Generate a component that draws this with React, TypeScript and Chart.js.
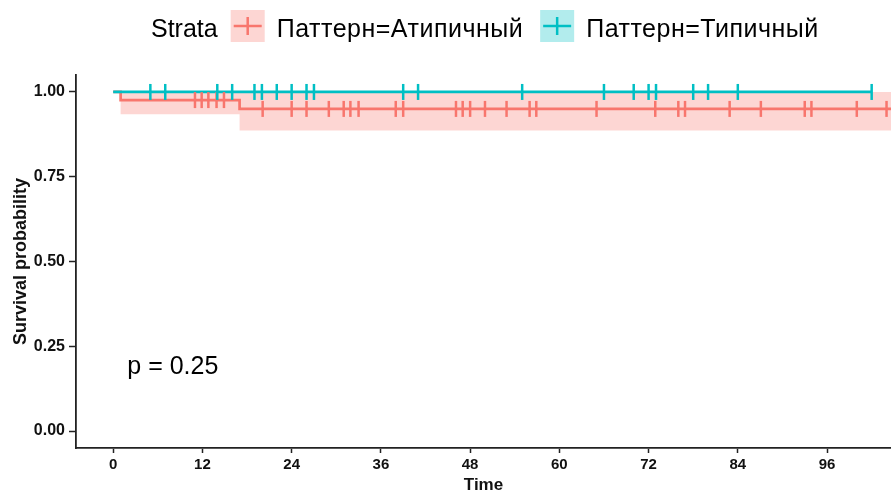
import React, { useEffect, useRef } from 'react';
import { Chart, registerables } from 'chart.js';

Chart.register(...registerables);

// ---- data ----
const X_TICKS = [0, 12, 24, 36, 48, 60, 72, 84, 96];
const Y_TICKS = [0, 0.25, 0.5, 0.75, 1];
const LEGEND_TITLE = 'Strata';
const STRATA = ['Паттерн=Атипичный', 'Паттерн=Типичный'];
const P_VALUE_TEXT = 'p = 0.25';

// Атипичный (red) step curve + confidence band
const RED_TIMES = [0, 1, 17, 106];
const RED_SURV = [1, 0.976, 0.95, 0.95];
const RED_LOWER = [1, 0.934, 0.886, 0.886];
const RED_UPPER = [1, 1, 1, 1];
const RED_CENSOR = [
  11.0, 11.9, 12.8, 13.9, 14.9, 20.1, 24.0, 26.0, 29.0, 31.0, 31.9, 33.0, 38.0, 39.0,
  46.1, 47.0, 48.0, 50.0, 52.9, 56.0, 56.9, 65.0, 72.9, 76.0, 76.9, 82.9, 87.1, 93.0,
  93.9, 100.0, 104.0,
];

// Типичный (teal) step curve
const TEAL_TIMES = [0, 102];
const TEAL_SURV = [1, 1];
const TEAL_CENSOR = [
  5, 7, 14, 16, 19, 20, 22, 24, 26, 27, 39, 41, 55, 66, 70, 72, 73, 78, 80, 84, 102,
];

const RED = '#F8766D';
const TEAL = '#00BFC4';
const RED_FILL = 'rgba(248,118,109,0.3)';
const TEAL_FILL = 'rgba(0,191,196,0.3)';
const FONT = '"Liberation Sans", Arial, Helvetica, sans-serif';

const survAt = (times: number[], surv: number[], t: number) => {
  let v = surv[0];
  for (let i = 0; i < times.length; i++) if (times[i] <= t) v = surv[i];
  return v;
};
const pts = (xs: number[], ys: number[]) => xs.map((x, i) => ({ x, y: ys[i] }));

const overlayPlugin = {
  id: 'overlay',
  afterDraw(chart: any) {
    const ctx = chart.ctx as CanvasRenderingContext2D;
    ctx.save();
    ctx.font = `25px ${FONT}`;
    ctx.fillStyle = '#000';
    ctx.textBaseline = 'alphabetic';
    ctx.textAlign = 'left';
    let x = 151;
    const baseY = 37;
    ctx.fillText(LEGEND_TITLE, x, baseY);
    x += ctx.measureText(LEGEND_TITLE).width + 13;
    const colors = [RED, TEAL];
    const fills = [RED_FILL, TEAL_FILL];
    STRATA.forEach((label, i) => {
      const bw = 34;
      const bh = 32;
      const by = 10;
      ctx.fillStyle = fills[i];
      ctx.fillRect(x, by, bw, bh);
      ctx.strokeStyle = colors[i];
      ctx.lineWidth = 2.5;
      ctx.beginPath();
      const cx = x + bw / 2;
      const cy = by + bh / 2;
      ctx.moveTo(x + 3, cy);
      ctx.lineTo(x + bw - 3, cy);
      ctx.moveTo(cx, cy - 9);
      ctx.lineTo(cx, cy + 9);
      ctx.stroke();
      x += bw + 12;
      ctx.fillStyle = '#000';
      (ctx as any).letterSpacing = '0.5px';
      ctx.fillText(label, x, baseY);
      x += ctx.measureText(label).width + 17;
      (ctx as any).letterSpacing = '0px';
    });
    // p-value
    const xs = chart.scales.x;
    const ys = chart.scales.y;
    ctx.fillText(P_VALUE_TEXT, xs.getPixelForValue(1.9), ys.getPixelForValue(0.168));
    ctx.restore();
  },
};

export default function App() {
  const ref = useRef<HTMLCanvasElement | null>(null);
  useEffect(() => {
    if (!ref.current) return;
    const chart = new Chart(ref.current, {
      type: 'line',
      data: {
        datasets: [
          {
            data: pts(RED_TIMES, RED_UPPER),
            borderWidth: 0,
            pointRadius: 0,
            stepped: true,
            fill: false,
            order: 10,
          },
          {
            data: pts(RED_TIMES, RED_LOWER),
            borderWidth: 0,
            pointRadius: 0,
            stepped: true,
            fill: '-1',
            backgroundColor: RED_FILL,
            order: 9,
          },
          {
            data: pts(RED_TIMES, RED_SURV),
            borderColor: RED,
            borderWidth: 2.7,
            pointRadius: 0,
            stepped: true,
            fill: false,
            order: 5,
          },
          {
            data: pts(TEAL_TIMES, TEAL_SURV),
            borderColor: TEAL,
            borderWidth: 2.7,
            pointRadius: 0,
            stepped: true,
            fill: false,
            order: 4,
          },
          {
            data: RED_CENSOR.map((t) => ({ x: t, y: survAt(RED_TIMES, RED_SURV, t) })),
            showLine: false,
            pointStyle: 'line',
            pointRotation: 90,
            pointRadius: 8,
            pointBorderWidth: 2.5,
            pointBorderColor: RED,
            pointBackgroundColor: RED,
            order: 3,
          },
          {
            data: TEAL_CENSOR.map((t) => ({ x: t, y: survAt(TEAL_TIMES, TEAL_SURV, t) })),
            showLine: false,
            pointStyle: 'line',
            pointRotation: 90,
            pointRadius: 8,
            pointBorderWidth: 2.5,
            pointBorderColor: TEAL,
            pointBackgroundColor: TEAL,
            order: 2,
          },
        ] as any,
      },
      options: {
        animation: false,
        responsive: false,
        events: [],
        layout: { autoPadding: false, padding: { top: 75, right: 0, left: 0, bottom: 0 } },
        plugins: {
          legend: { display: false },
          tooltip: { enabled: false },
          title: { display: false },
        },
        scales: {
          x: {
            type: 'linear',
            min: -5,
            max: 104.6,
            afterBuildTicks: (s: any) => {
              s.ticks = X_TICKS.map((v) => ({ value: v }));
            },
            afterFit: (s: any) => {
              s.height = 45;
              s.paddingLeft = 0;
              s.paddingRight = 0;
            },
            ticks: {
              font: { family: FONT, size: 15, weight: 'bold' },
              color: '#111',
              padding: 3,
              callback: (v: any) => String(v),
            },
            grid: {
              drawOnChartArea: false,
              drawTicks: true,
              tickLength: 5,
              tickColor: '#222',
              tickWidth: 1.5,
            },
            border: { display: true, color: '#222', width: 1.8 },
            title: {
              display: true,
              text: 'Time',
              font: { family: FONT, size: 17, weight: 'bold' },
              color: '#111',
              padding: { top: 0, bottom: -3 },
            },
          },
          y: {
            type: 'linear',
            min: -0.05,
            max: 1.05,
            afterBuildTicks: (s: any) => {
              s.ticks = Y_TICKS.map((v) => ({ value: v }));
            },
            afterFit: (s: any) => {
              s.width = 76;
              s.paddingTop = 0;
              s.paddingBottom = 0;
            },
            ticks: {
              font: { family: FONT, size: 16, weight: 'bold' },
              color: '#111',
              padding: 4,
              callback: (v: any) => Number(v).toFixed(2),
            },
            grid: {
              drawOnChartArea: false,
              drawTicks: true,
              tickLength: 7,
              tickColor: '#222',
              tickWidth: 1.5,
            },
            border: { display: true, color: '#222', width: 1.8 },
            title: {
              display: true,
              text: 'Survival probability',
              font: { family: FONT, size: 18, weight: 'bold' },
              color: '#111',
              padding: { top: 10, bottom: 0 },
            },
          },
        },
      } as any,
      plugins: [overlayPlugin],
    });
    return () => chart.destroy();
  }, []);

  return (
    <div style={{ position: 'absolute', left: 0, top: 0, width: 891, height: 493, background: '#fff' }}>
      <canvas ref={ref} width={891} height={493} style={{ width: 891, height: 493, display: 'block' }} />
    </div>
  );
}
